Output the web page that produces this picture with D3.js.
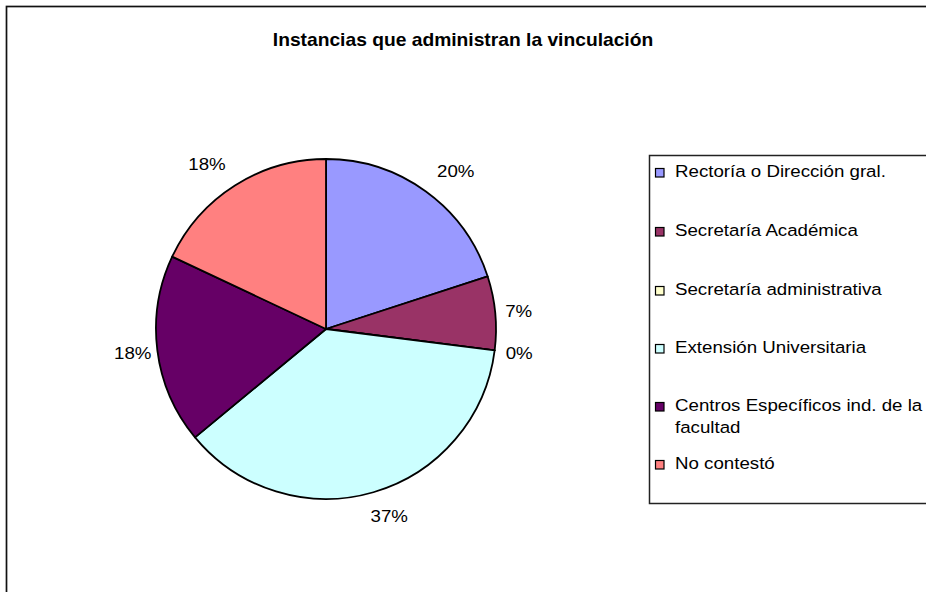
<!DOCTYPE html>
<html>
<head>
<meta charset="utf-8">
<script src="https://cdn.jsdelivr.net/npm/d3@7"></script>
<style>
  html, body { margin: 0; padding: 0; background: #fff; overflow: hidden; }
  svg { display: block; font-family: "Liberation Sans", Arial, sans-serif; }
</style>
</head>
<body>
<svg id="chart" width="926" height="592"></svg>
<script>
// Instancias que administran la vinculación — porcentajes por instancia
const title = "Instancias que administran la vinculación";
const categories = [
  "Rectoría o Dirección gral.",
  "Secretaría Académica",
  "Secretaría administrativa",
  "Extensión Universitaria",
  "Centros Específicos ind. de la facultad",
  "No contestó"
];
const values = [20, 7, 0, 37, 18, 18];
const colors = ["#9999FF", "#993366", "#FFFFCC", "#CCFFFF", "#660066", "#FF8080"];

const svg = d3.select("#chart");
const stretch = 1.1; // text is drawn slightly widened

// outer chart frame (runs off the right and bottom edges)
svg.append("rect")
  .attr("x", 6.5).attr("y", 6.5)
  .attr("width", 3000).attr("height", 3000)
  .attr("fill", "#fff").attr("stroke", "#111").attr("stroke-width", 1.7);

svg.append("text")
  .attr("transform", `translate(463,46) scale(${stretch},1)`)
  .attr("text-anchor", "middle")
  .attr("font-size", 17.5).attr("font-weight", "bold")
  .text(title);

const cx = 326, cy = 329, r = 170;
const data = categories.map((c, i) => ({ name: c, value: values[i], color: colors[i] }));

const pie = d3.pie().value(d => d.value).sort(null);
const arc = d3.arc().innerRadius(0).outerRadius(r);
const arcs = pie(data);

const g = svg.append("g").attr("transform", `translate(${cx},${cy})`);
g.selectAll("path.slice")
  .data(arcs)
  .join("path")
  .attr("class", "slice")
  .attr("d", arc)
  .attr("fill", d => d.data.color)
  .attr("stroke", "#000")
  .attr("stroke-width", 1.8)
  .attr("stroke-linejoin", "round");

// percentage labels placed outside the circle along each slice's mid-angle
const mid = d => (d.startAngle + d.endAngle) / 2;
const lx = d => (190 + 38 * Math.abs(Math.cos(mid(d)))) * Math.sin(mid(d));
const ly = d => -195 * Math.cos(mid(d)) + 6;
g.selectAll("text.pct")
  .data(arcs)
  .join("text")
  .attr("class", "pct")
  .attr("transform", d => `translate(${lx(d)},${ly(d)}) scale(${stretch},1)`)
  .attr("text-anchor", "middle")
  .attr("font-size", 17)
  .text(d => d3.format(".0f")(d.data.value) + "%");

// legend box (also runs off the right edge)
const lg = svg.append("g");
lg.append("rect")
  .attr("x", 649.5).attr("y", 155.5)
  .attr("width", 1000).attr("height", 348)
  .attr("fill", "#fff").attr("stroke", "#222").attr("stroke-width", 1.5);

const rowY = [170, 229, 288, 346, 404, 462];
const lineH = 22;
const items = lg.selectAll("g.item")
  .data(data)
  .join("g")
  .attr("class", "item")
  .attr("transform", (d, i) => `translate(655,${rowY[i]})`);

items.append("rect")
  .attr("x", 0.5).attr("y", -1.5)
  .attr("width", 8.5).attr("height", 8.5)
  .attr("fill", d => d.color)
  .attr("stroke", "#000").attr("stroke-width", 1.2);

items.append("text")
  .attr("transform", `translate(20,7) scale(${stretch},1)`)
  .attr("font-size", 17)
  .each(function (d) {
    const t = d3.select(this);
    if (d.name.startsWith("Centros")) {
      t.append("tspan").attr("x", 0).attr("dy", 0).text("Centros Específicos ind. de la");
      t.append("tspan").attr("x", 0).attr("dy", lineH).text("facultad");
    } else {
      t.text(d.name);
    }
  });
</script>
</body>
</html>
